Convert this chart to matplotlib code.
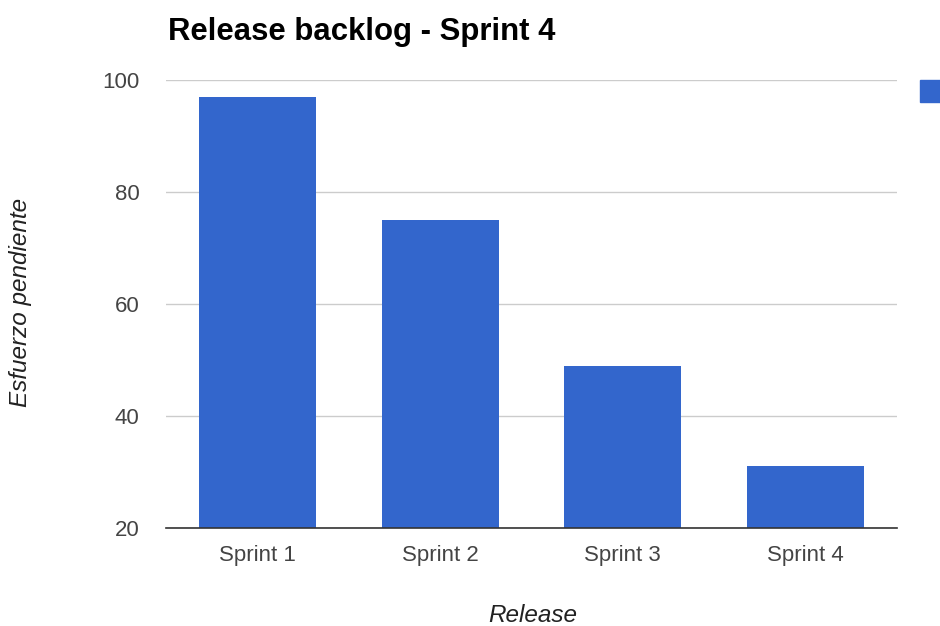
import matplotlib.pyplot as plt
import matplotlib.patches as mpatches

# Esfuerzo pendiente por sprint
sprints = ["Sprint 1", "Sprint 2", "Sprint 3", "Sprint 4"]
esfuerzo = [97, 75, 49, 31]
y_ticks = [20, 40, 60, 80, 100]

azul = "#3366cc"

plt.rcParams['font.family'] = ['Liberation Sans', 'DejaVu Sans']

fig = plt.figure(figsize=(9.4, 6.26), dpi=100)
ax = fig.add_axes([0.1766, 0.1565, 0.7776, 0.7155])

x = list(range(len(sprints)))
ax.bar(x, esfuerzo, width=0.64, color=azul, zorder=3)

ax.set_xlim(-0.5, len(sprints) - 0.5)
ax.set_ylim(20, 100)
ax.set_yticks(y_ticks)
ax.set_xticks(x)
ax.set_xticklabels(sprints)
ax.tick_params(axis='both', length=0, labelsize=16, colors='#444444')
ax.tick_params(axis='y', pad=19)
ax.tick_params(axis='x', pad=12)
ax.grid(axis='y', color='#cccccc', linewidth=1, zorder=0)

for lado in ['top', 'right', 'left']:
    ax.spines[lado].set_visible(False)
ax.spines['bottom'].set_color('#333333')
ax.spines['bottom'].set_linewidth(1.2)
ax.spines['bottom'].set_zorder(4)

fig.text(168 / 940, 1 - 40 / 626, "Release backlog - Sprint 4",
         fontsize=22.4, fontweight='bold', color='#000000', va='baseline')
# titulos de ejes
fig.text(533 / 940, 1 - 616 / 626, "Release", fontsize=17.5, style='italic',
         color='#222222', ha='center', va='center')
fig.text(21 / 940, 1 - 302 / 626, "Esfuerzo pendiente", fontsize=17.5, style='italic',
         color='#222222', ha='center', va='center', rotation=90)

# leyenda (la etiqueta queda fuera del borde derecho)
handle = mpatches.Patch(color=azul)
fig.legend(handles=[handle], labels=[""], loc='upper left',
           bbox_to_anchor=(920 / 940, 1 - 80 / 626), frameon=False, fontsize=16,
           borderpad=0, borderaxespad=0, handletextpad=0,
           handlelength=1.1, handleheight=1.15)

fig.savefig("out.png", dpi=100)
